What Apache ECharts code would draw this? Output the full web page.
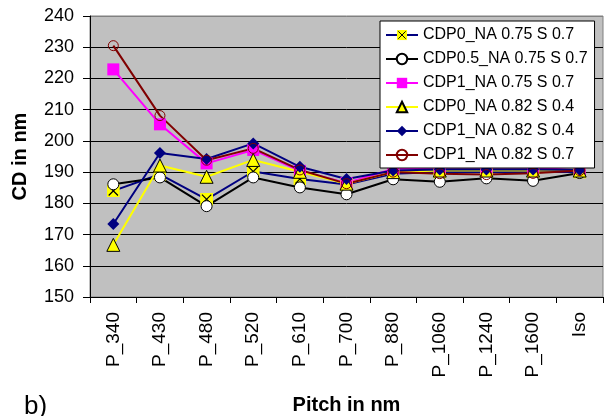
<!DOCTYPE html>
<html>
<head>
<meta charset="utf-8">
<script src="https://cdn.jsdelivr.net/npm/echarts@6/dist/echarts.min.js"></script>
<style>
html,body{margin:0;padding:0;background:#fff;}
#chart{width:604px;height:416px;}
</style>
</head>
<body>
<div id="chart"></div>
<script>
const categories = ['P_340','P_430','P_480','P_520','P_610','P_700','P_880','P_1060','P_1240','P_1600','Iso'];
const seriesNames = ['CDP0_NA 0.75 S 0.7','CDP0.5_NA 0.75 S 0.7','CDP1_NA 0.75 S 0.7','CDP0_NA 0.82 S 0.4','CDP1_NA 0.82 S 0.4','CDP1_NA 0.82 S 0.7'];
const cdp0_075_07  = [184.0, 189.3, 181.3, 190.2, 187.8, 186.0, 189.5, 190.0, 190.0, 190.0, 190.0];
const cdp05_075_07 = [186.1, 188.3, 179.1, 188.3, 185.1, 182.9, 187.7, 186.9, 188.0, 187.2, 189.7];
const cdp1_075_07  = [222.9, 205.3, 192.8, 197.1, 190.4, 186.5, 191.0, 191.5, 191.5, 191.5, 190.5];
const cdp0_082_04  = [166.7, 192.1, 188.5, 193.9, 190.1, 186.3, 190.0, 190.5, 190.5, 190.5, 190.5];
const cdp1_082_04  = [173.4, 196.1, 194.2, 199.2, 191.7, 187.8, 190.5, 190.8, 190.8, 190.8, 190.7];
const cdp1_082_07  = [230.5, 208.1, 193.8, 197.6, 190.7, 186.3, 190.0, 189.5, 189.2, 189.6, 190.5];
const yTicks = {min:150, max:240, interval:10};

const xSvg = "<svg xmlns='http://www.w3.org/2000/svg' width='14' height='14'><rect x='0' y='0' width='14' height='14' fill='#FFFF00'/><path d='M2 2L12 12M12 2L2 12' stroke='#000000' stroke-width='1.3' fill='none'/></svg>";
const xSymbol = 'image://data:image/svg+xml;charset=utf-8,' + encodeURIComponent(xSvg);

const FONT = 'Liberation Sans, Arial, sans-serif';
const chart = echarts.init(document.getElementById('chart'), null, {renderer:'canvas'});

function mk(name, data, lineColor, symbol, size, fill, border, bw){
  return {
    name: name, type:'line', data: data,
    symbol: symbol, symbolSize: size,
    lineStyle:{color: lineColor, width: 2},
    itemStyle:{color: fill, borderColor: border, borderWidth: bw},
    emphasis:{disabled:true},
    z: 3
  };
}

const option = {
  animation:false,
  textStyle:{fontFamily: FONT, color:'#000'},
  grid:{left:90, right:1, top:16, bottom:119, show:true, backgroundColor:'#C0C0C0', borderColor:'#808080', borderWidth:1, containLabel:false, outerBoundsMode:'none'},
  legend:{
    orient:'vertical', left:380, top:21,
    padding:[6,7,5,5], itemGap:8, itemWidth:32, itemHeight:13,
    backgroundColor:'#fff', borderColor:'#000', borderWidth:1,
    textStyle:{fontSize:16, color:'#000', fontFamily: FONT},
    selectedMode:false,
    data: seriesNames
  },
  xAxis:{
    type:'category', data: categories, boundaryGap:true,
    axisLine:{show:true, lineStyle:{color:'#000', width:1}},
    axisTick:{show:true, length:6, lineStyle:{color:'#000'}},
    axisLabel:{rotate:90, fontSize:19, color:'#000', margin:15, interval:0, fontFamily: FONT},
    name:'Pitch in nm', nameLocation:'middle', nameGap:98,
    nameTextStyle:{fontSize:20, fontWeight:'bold', color:'#000', fontFamily: FONT},
    splitLine:{show:false}
  },
  yAxis:{
    type:'value', min:yTicks.min, max:yTicks.max, interval:yTicks.interval,
    axisLine:{show:true, lineStyle:{color:'#000', width:1}},
    axisTick:{show:true, length:7, lineStyle:{color:'#000'}},
    axisLabel:{fontSize:18, color:'#000', margin:16, fontFamily: FONT},
    splitLine:{show:true, lineStyle:{color:['#000','#000','#000','#000','#000','#000','#000','#000','#000','#808080'], width:1}},
    name:'CD in nm', nameLocation:'middle', nameGap:60,
    nameTextStyle:{fontSize:20, fontWeight:'bold', color:'#000', fontFamily: FONT}
  },
  graphic:[
    {type:'text', left:24, top:394, style:{text:'b)', fontSize:26, fontFamily: FONT, fill:'#000'}}
  ],
  series:[
    mk(seriesNames[0], cdp0_075_07, '#000080', xSymbol, 13, '#FFFF00', '#000', 0),
    mk(seriesNames[1], cdp05_075_07, '#000000', 'circle', 11, '#FFFFFF', '#000000', 1),
    mk(seriesNames[2], cdp1_075_07, '#FF00FF', 'rect', 12, '#FF00FF', '#FF00FF', 0),
    mk(seriesNames[3], cdp0_082_04, '#FFFF00', 'triangle', 13, '#FFFF00', '#000000', 1),
    mk(seriesNames[4], cdp1_082_04, '#000080', 'diamond', 12, '#000080', '#000080', 0),
    mk(seriesNames[5], cdp1_082_07, '#800000', 'circle', 10, 'rgba(0,0,0,0)', '#800000', 1)
  ]
};
chart.setOption(option);
</script>
</body>
</html>
